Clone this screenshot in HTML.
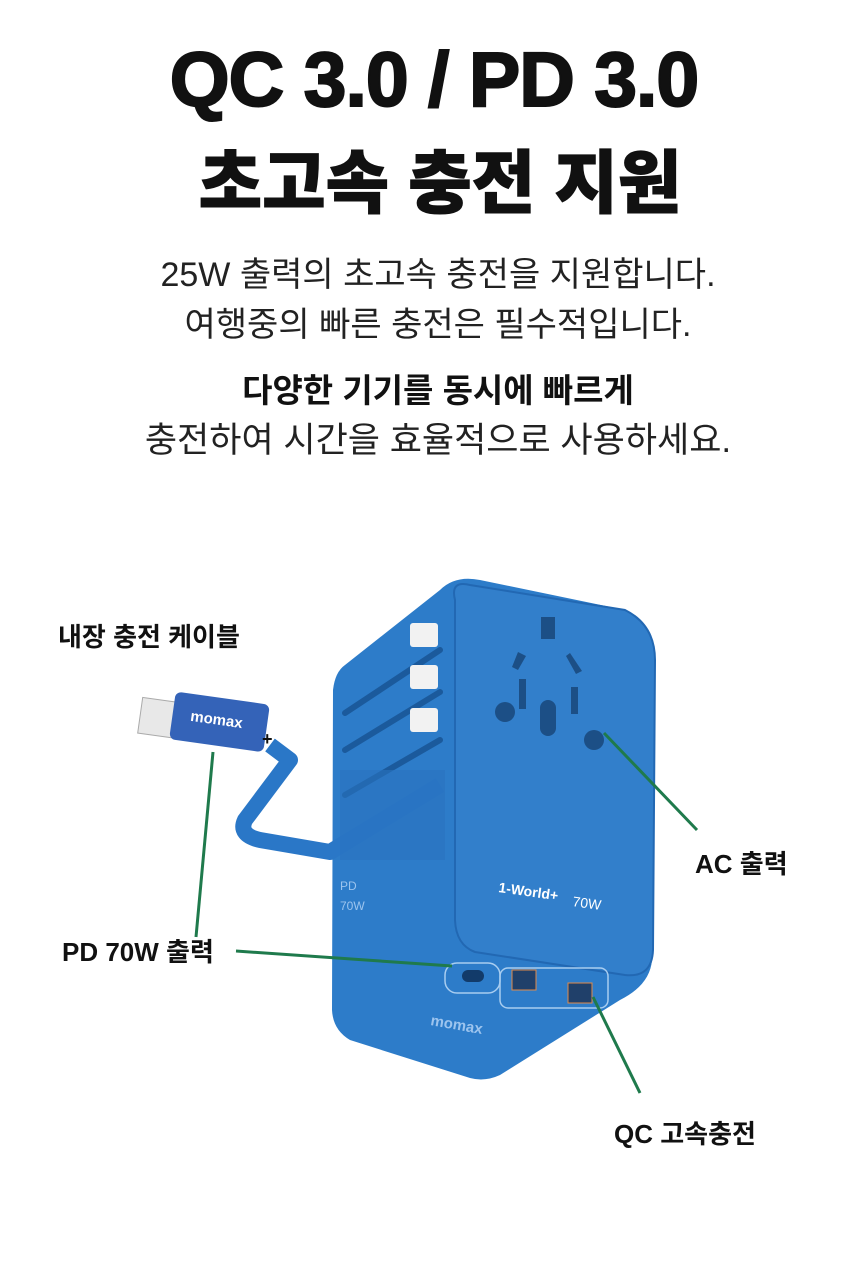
<!DOCTYPE html>
<html><head><meta charset="utf-8"><style>
body{margin:0;width:860px;height:1283px;background:#fff;overflow:hidden;font-family:"Liberation Sans","Noto Sans CJK KR",sans-serif;color:#111}
.t{position:absolute;left:8px;width:860px;text-align:center;white-space:nowrap}
.l{position:absolute;font-weight:bold;font-size:26px;white-space:nowrap}
</style></head><body>
<div class="t" style="top:36px;left:4px;font-size:77px;font-weight:900;letter-spacing:-1px;-webkit-text-stroke:2px #111">QC 3.0 / PD 3.0</div>
<div class="t" style="top:127px;left:10px;font-size:69px;font-weight:900;-webkit-text-stroke:1px #111">초고속 충전 지원</div>
<div class="t" style="top:247px;font-size:34px;color:#222">25W 출력의 초고속 충전을 지원합니다.</div>
<div class="t" style="top:297px;font-size:34px;color:#222">여행중의 빠른 충전은 필수적입니다.</div>
<div class="t" style="top:364px;font-size:33px;font-weight:bold">다양한 기기를 동시에 빠르게</div>
<div class="t" style="top:412px;font-size:35px;color:#222">충전하여 시간을 효율적으로 사용하세요.</div>

<svg style="position:absolute;left:0;top:0" width="860" height="1283">
<path d="M345 665 Q335 672 333 690 L332 1010 Q333 1030 350 1040 L470 1078 Q485 1082 500 1075 L620 1000 Q650 985 652 960 L655 660 Q655 625 625 610 L480 580 Q455 575 440 590 Z" fill="#2d7cc9"/>
<path d="M470 585 Q450 580 455 600 L455 920 Q456 945 475 952 L625 975 Q652 978 653 950 L655 660 Q655 625 625 610 Z" fill="#327fcb" stroke="#2268b3" stroke-width="2"/>
<g stroke="#1b5a9c" stroke-width="6" stroke-linecap="round">
<line x1="345" y1="713" x2="440" y2="650"/><line x1="345" y1="750" x2="440" y2="692"/><line x1="345" y1="795" x2="440" y2="740"/>
</g>
<g fill="#f2f2f2"><rect x="410" y="623" width="28" height="24" rx="3"/><rect x="410" y="665" width="28" height="24" rx="3"/><rect x="410" y="708" width="28" height="24" rx="3"/></g>
<g fill="#1c4f86"><rect x="541" y="617" width="14" height="22"/><path d="M518 652 l8 4 l-8 14 l-6 -3z"/><path d="M570 653 l12 18 l-6 3 l-10 -18z"/>
<rect x="519" y="679" width="7" height="30"/><rect x="571" y="687" width="7" height="27"/>
<circle cx="505" cy="712" r="10"/><rect x="540" y="700" width="16" height="36" rx="8"/><circle cx="594" cy="740" r="10"/></g>
<path d="M270 745 L290 760 L245 820 Q238 835 260 840 L330 852 L440 785" fill="none" stroke="#2a77c7" stroke-width="16" stroke-linejoin="round"/>
<rect x="340" y="770" width="105" height="90" fill="#2a73c0" opacity=".6"/>
<rect x="140" y="700" width="40" height="36" fill="#e8e8e8" stroke="#aaa" transform="rotate(8 160 718)"/>
<rect x="172" y="698" width="95" height="48" rx="6" fill="#3463b8" transform="rotate(8 220 722)"/>
<text x="190" y="725" font-size="15" font-weight="bold" fill="#fff" transform="rotate(8 220 722)">momax</text>
<text x="262" y="745" font-size="18" font-weight="bold" fill="#111">+</text>
<text x="498" y="892" font-size="14" font-weight="bold" fill="#fff" transform="rotate(8 498 892)">1-World+</text>
<text x="572" y="906" font-size="14" fill="#fff" transform="rotate(8 572 906)">70W</text>
<text x="340" y="890" font-size="12" fill="#9cc4ee">PD</text><text x="340" y="910" font-size="12" fill="#9cc4ee">70W</text>
<rect x="445" y="963" width="55" height="30" rx="12" fill="none" stroke="#a8cdf0" stroke-width="1.5"/>
<rect x="462" y="970" width="22" height="12" rx="6" fill="#123b6a"/>
<rect x="500" y="968" width="108" height="40" rx="8" fill="none" stroke="#a8cdf0" stroke-width="1.5"/>
<rect x="512" y="970" width="24" height="20" fill="#20406a" stroke="#e08a4a"/>
<rect x="568" y="983" width="24" height="20" fill="#20406a" stroke="#e08a4a"/>
<text x="430" y="1025" font-size="15" font-weight="bold" fill="#9cc4ee" transform="rotate(10 430 1025)">momax</text>
<g stroke="#1f7a4c" stroke-width="3" fill="none">
<line x1="213" y1="752" x2="196" y2="937"/><line x1="236" y1="951" x2="452" y2="966"/>
<line x1="604" y1="733" x2="697" y2="830"/><line x1="593" y1="997" x2="640" y2="1093"/>
</g>
</svg>
<div class="l" style="left:58px;top:617px">내장 충전 케이블</div>
<div class="l" style="left:695px;top:844px">AC 출력</div>
<div class="l" style="left:62px;top:932px">PD 70W 출력</div>
<div class="l" style="left:614px;top:1114px">QC 고속충전</div>
</body></html>
